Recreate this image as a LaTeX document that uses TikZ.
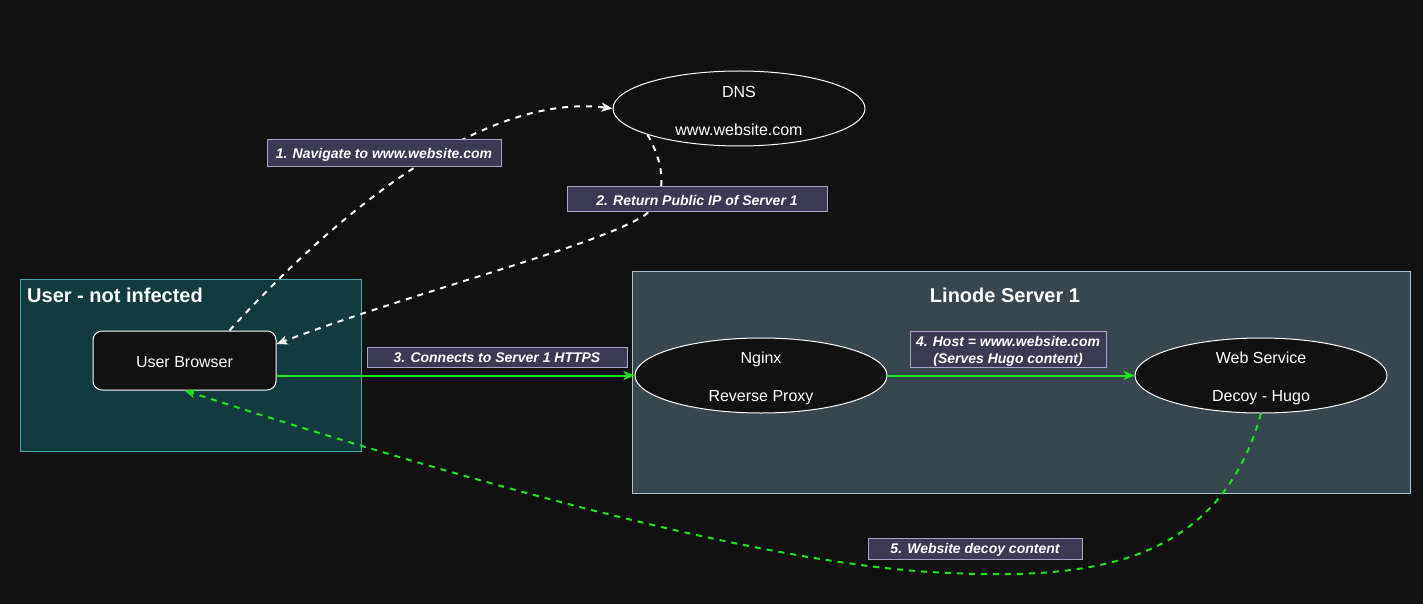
\documentclass[tikz,border=0pt]{standalone}
\usepackage{fontspec}
\setmainfont{Liberation Sans}
\usetikzlibrary{shapes.geometric,arrows.meta}
\definecolor{bg}{HTML}{111111}
\definecolor{userfill}{HTML}{123B3F}
\definecolor{userdraw}{HTML}{4FA6AE}
\definecolor{srvfill}{HTML}{37464F}
\definecolor{srvdraw}{HTML}{A9C2D4}
\definecolor{lblfill}{HTML}{3C3A52}
\definecolor{lbldraw}{HTML}{A8A2C8}
\definecolor{grn}{HTML}{19E619}
\tikzset{
  container/.style={draw, line width=1pt},
  ellnode/.style={ellipse, draw=white, fill=bg, line width=1pt, minimum width=252pt, minimum height=75pt, inner sep=0pt},
  etext/.style={text=white, inner sep=0pt, align=center, font=\fontsize{16}{38}\selectfont},
  boxnode/.style={rectangle, rounded corners=9pt, draw=white, fill=bg, line width=1pt, minimum width=183pt, minimum height=59pt},
  lbl/.style={rectangle, draw=lbldraw, fill=lblfill, line width=1pt, inner sep=0pt, text=white, align=center, font=\fontsize{14}{17}\selectfont\bfseries\itshape},
  ltext/.style={text=white, inner sep=0pt, align=center, font=\fontsize{14}{17}\selectfont\bfseries\itshape},
  title/.style={text=white, inner sep=0pt, font=\fontsize{20}{24}\selectfont\bfseries},
  wdash/.style={draw=white, line width=2pt, dash pattern=on 6pt off 6pt, -{Stealth[length=11pt,width=9pt,inset=3pt]}},
  gsolid/.style={draw=grn, line width=2pt, -{Stealth[length=11pt,width=9pt,inset=3pt]}},
  gdash/.style={draw=grn, line width=2pt, dash pattern=on 6pt off 6pt, -{Stealth[length=11pt,width=9pt,inset=3pt]}},
}
\begin{document}
\begin{tikzpicture}[x=1pt,y=-1pt]
\useasboundingbox[fill=bg] (0,0) rectangle (1423,604);
% containers
\filldraw[container, fill=userfill, draw=userdraw] (20.5,279.5) rectangle (361.5,451.5);
\filldraw[container, fill=srvfill, draw=srvdraw] (632.5,271.5) rectangle (1410.5,493.5);
\node[title, anchor=west] (usertitle) at (27,295) {User - not infected};
\node[title] (srvtitle) at (1005,295) {Linode Server 1};
% nodes
\node[boxnode] (ub) at (184.5,360.5) {};
\node[etext] (ubt) at (184.5,362.5) {User Browser};
\node[ellnode] (dns) at (739,108.5) {};
\node[etext] (dnst) at (739,110.5) {DNS\\www.website.com};
\node[ellnode] (ngx) at (761,375.5) {};
\node[etext] (ngxt) at (761,378) {Nginx\\Reverse Proxy};
\node[ellnode] (ws) at (1261,375.5) {};
\node[etext] (wst) at (1261,378) {Web Service\\Decoy - Hugo};
% edges
\draw[wdash] ([xshift=45pt]ub.north) .. controls (330,220) and (480,92) .. (dns.west);
\draw[wdash] (dns.196.6) .. controls (665,165) and (668,198) .. (645,215) .. controls (600,245) and (420,290) .. ([yshift=16.5pt]ub.east);
\draw[gsolid] ([yshift=-15pt]ub.east) -- (ngx.west);
\draw[gsolid] (ngx.east) -- (ws.west);
\draw[gdash] (ws.south) .. controls (1220,560) and (1100,580) .. (950,573) .. controls (750,566) and (400,460) .. (ub.south);
% labels
\node[lbl, minimum width=234pt, minimum height=27pt] (l1) at (384,153.5) {};
\node[ltext] (l1t) at (384,154.5) {1. Navigate to www.website.com};
\node[lbl, minimum width=260pt, minimum height=24pt] (l2) at (697,199) {};
\node[ltext] (l2t) at (697,200) {2. Return Public IP of Server 1};
\node[lbl, minimum width=260pt, minimum height=20pt] (l3) at (497,357) {};
\node[ltext] (l3t) at (497,358) {3. Connects to Server 1 HTTPS};
\node[lbl, minimum width=196pt, minimum height=36pt] (l4) at (1008,349) {};
\node[ltext] (l4t) at (1008,351) {4. Host = www.website.com\\(Serves Hugo content)};
\node[lbl, minimum width=214pt, minimum height=21pt] (l5) at (975,548.5) {};
\node[ltext] (l5t) at (975,549.5) {5. Website decoy content};
\end{tikzpicture}
\end{document}
